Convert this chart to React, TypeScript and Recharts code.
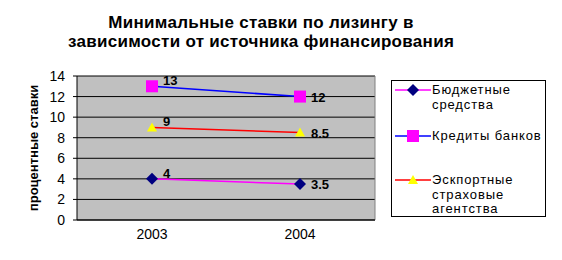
import React from 'react';
import { LineChart, Line, XAxis, YAxis, CartesianGrid, LabelList } from 'recharts';

const years = ['2003', '2004'];
const budgetFunds = [4, 3.5];
const bankCredits = [13, 12];
const exportAgencies = [9, 8.5];
const yTicks = [0, 2, 4, 6, 8, 10, 12, 14];

const titleLines = ['Минимальные ставки по лизингу в', 'зависимости от источника финансирования'];
const yLabel = 'процентные ставки';

const data = years.map((year, i) => ({
  year,
  budget: budgetFunds[i],
  banks: bankCredits[i],
  exportAg: exportAgencies[i],
}));

const FONT = 'Arial, "Liberation Sans", sans-serif';

const diamond = (cx: number, cy: number, r: number, fill: string, key?: any) => (
  <polygon key={key} points={`${cx},${cy - r} ${cx + r},${cy} ${cx},${cy + r} ${cx - r},${cy}`} fill={fill} />
);
const square = (cx: number, cy: number, r: number, fill: string, key?: any) => (
  <rect key={key} x={cx - r} y={cy - r} width={r * 2} height={r * 2} fill={fill} />
);
const triangle = (cx: number, cy: number, r: number, fill: string, key?: any) => (
  <polygon key={key} points={`${cx},${cy - r} ${cx + r},${cy + r * 0.8} ${cx - r},${cy + r * 0.8}`} fill={fill} />
);

const series = [
  { key: 'budget', name: 'Бюджетные средства', lines: ['Бюджетные', 'средства'], color: '#ff00ff', marker: (x: number, y: number, k?: any) => diamond(x, y, 6, '#000080', k), top: 2 },
  { key: 'banks', name: 'Кредиты банков', lines: ['Кредиты банков'], color: '#0000ff', marker: (x: number, y: number, k?: any) => square(x, y, 6, '#ff00ff', k), top: 48 },
  { key: 'exportAg', name: 'Эскпортные страховые агентства', lines: ['Эскпортные', 'страховые', 'агентства'], color: '#ff0000', marker: (x: number, y: number, k?: any) => triangle(x, y, 5, '#ffff00', k), top: 92 },
];

const renderValue = (p: any) => {
  const { x, y, value, index } = p;
  return (
    <text
      key={`lbl-${index}-${value}`}
      x={x + 11}
      y={y + (index === 0 ? -1 : 5)}
      fontFamily={FONT}
      fontWeight="bold"
      fontSize={13}
      fill="#000"
    >
      {value}
    </text>
  );
};

const renderYLabel = (p: any) => {
  const { viewBox } = p;
  const cx = viewBox.x + 23;
  const cy = viewBox.y + viewBox.height / 2;
  return (
    <text
      x={cx}
      y={cy}
      transform={`rotate(-90, ${cx}, ${cy})`}
      textAnchor="middle"
      dominantBaseline="central"
      fontFamily={FONT}
      fontWeight="bold"
      fontSize={13}
      fill="#000"
    >
      {yLabel}
    </text>
  );
};

const App = () => {
  return (
    <div style={{ position: 'absolute', left: 0, top: 0, width: 562, height: 260, background: '#fff', fontFamily: FONT }}>
      <div
        style={{
          position: 'absolute',
          left: 0,
          top: 13,
          width: 522,
          textAlign: 'center',
          fontWeight: 'bold',
          fontSize: 17,
          lineHeight: '19px',
          letterSpacing: '0.3px',
        }}
      >
        {titleLines.map((t) => (
          <div key={t}>{t}</div>
        ))}
      </div>
      <LineChart width={562} height={260} data={data} margin={{ top: 76, right: 187, bottom: 10, left: 10 }}>
        <CartesianGrid fill="#c0c0c0" stroke="#000" strokeWidth={1} vertical={false} />
        <CartesianGrid
          stroke="#808080"
          horizontal={false}
          verticalCoordinatesGenerator={({ offset }: any) => [offset.left + offset.width]}
        />
        <XAxis
          dataKey="year"
          stroke="#000"
          tickLine={false}
          padding={{ left: 75, right: 75 }}
          interval={0}
          tick={{ fill: '#000', fontSize: 14, fontFamily: FONT }}
          height={30}
          tickMargin={3}
        />
        <YAxis
          domain={[0, 14]}
          ticks={yTicks}
          interval={0}
          stroke="#000"
          width={67}
          tickSize={4}
          tickMargin={8}
          tick={{ fill: '#000', fontSize: 14, fontFamily: FONT }}
          label={{ content: renderYLabel }}
        />
        {series.map((s) => (
          <Line
            key={s.key}
            dataKey={s.key}
            name={s.name}
            stroke={s.color}
            strokeWidth={1.5}
            isAnimationActive={false}
            dot={(p: any) => s.marker(p.cx, p.cy, `${s.key}-${p.index}`)}
            activeDot={false}
          >
            <LabelList dataKey={s.key} content={renderValue} />
          </Line>
        ))}
      </LineChart>
      <div
        style={{
          position: 'absolute',
          left: 391,
          top: 80,
          width: 153,
          height: 135,
          border: '1px solid #000',
          background: '#fff',
        }}
      >
        {series.map((s) => (
          <div key={s.key} style={{ position: 'absolute', left: 0, top: s.top, width: 153 }}>
            <svg width={38} height={14} style={{ position: 'absolute', left: 3, top: 0 }}>
              <line x1={0} y1={7} x2={36} y2={7} stroke={s.color} strokeWidth={1.5} />
              {s.marker(18, 7)}
            </svg>
            <div style={{ position: 'absolute', left: 40, top: 0, fontSize: 13, lineHeight: '14.5px', letterSpacing: '0.9px', whiteSpace: 'nowrap' }}>
              {s.lines.map((l) => (
                <div key={l}>{l}</div>
              ))}
            </div>
          </div>
        ))}
      </div>
    </div>
  );
};

export default App;
